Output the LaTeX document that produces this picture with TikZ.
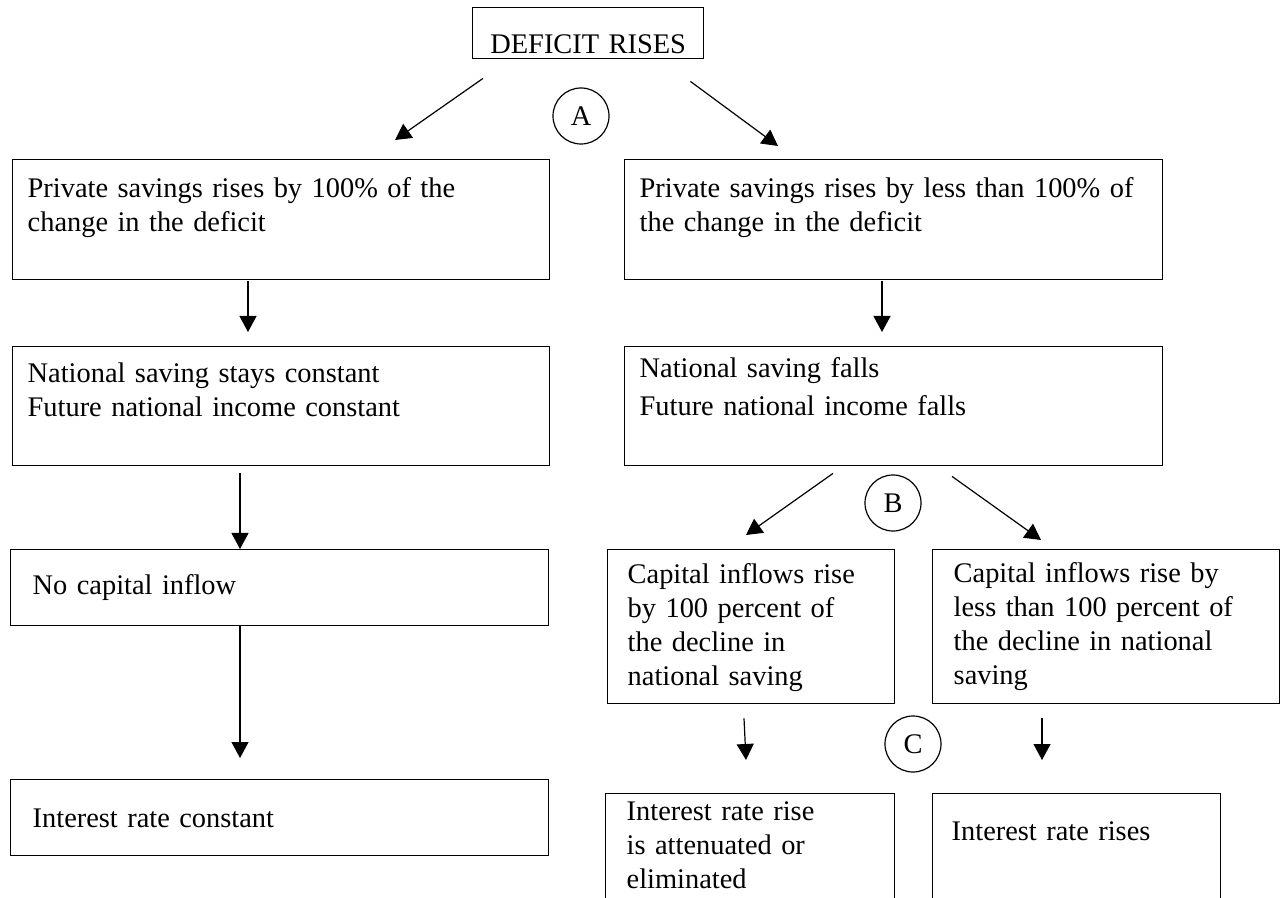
\documentclass[tikz,border=0pt]{standalone}
\usepackage{fontspec}
\setmainfont{Liberation Serif}
\usetikzlibrary{arrows.meta}
\begin{document}
\begin{tikzpicture}[x=0.5pt, y=-0.5pt]
\tikzset{boite/.style={draw, line width=0.7pt, anchor=north west, align=left, inner ysep=0pt, inner xsep=7.5pt, font=\fontsize{14.2pt}{17pt}\selectfont}}
\tikzset{rond/.style={draw, circle, line width=0.6pt, minimum size=28pt, inner sep=0pt, font=\fontsize{14.2pt}{17pt}\selectfont}}
\tikzset{fleche/.style={line width=0.6pt, -{Triangle[length=8pt, width=8.5pt]}}}
\useasboundingbox (0,0) rectangle (1280,898);
\clip (0,0) rectangle (1280,898);
\node[boite, align=center, inner xsep=0pt, text width=115.5pt, text height=23pt, text depth=2.5pt] (deficit) at (472,7) {DEFICIT RISES};
\node[boite, text width=253.5pt, text height=19pt, text depth=41pt] (prive100) at (12,159) {Private savings rises by 100\% of the\\change in the deficit};
\node[boite, text width=254pt, text height=19pt, text depth=41pt] (priveMoins) at (624,159) {Private savings rises by less than 100\% of\\the change in the deficit};
\node[boite, text width=253.5pt, text height=18pt, text depth=41.5pt] (epargneCst) at (12,346) {National saving stays constant\\Future national income constant};
\node[boite, text width=254pt, text height=15.5pt, text depth=44pt, font=\fontsize{14.2pt}{19pt}\selectfont] (epargneBaisse) at (624,346) {National saving falls\\Future national income falls};
\node[boite, inner xsep=11pt, text width=247pt, text height=22.5pt, text depth=15.5pt] (pasCapital) at (10,549) {No capital inflow};
\node[boite, inner xsep=11pt, text width=247pt, text height=24pt, text depth=14pt] (tauxCst) at (10,779) {Interest rate constant};
\node[boite, inner xsep=10pt, text width=123.5pt, text height=17pt, text depth=60pt] (capital100) at (607,549) {Capital inflows rise\\by 100 percent of\\the decline in\\national saving};
\node[boite, inner xsep=10.5pt, text width=152.5pt, text height=16.5pt, text depth=60.5pt] (capitalMoins) at (932,549) {Capital inflows rise by\\less than 100 percent of\\the decline in national\\saving};
\node[boite, inner xsep=10.5pt, text width=123.5pt, text height=13.5pt, text depth=55pt] (tauxAttenue) at (605,793) {Interest rate rise\\is attenuated or\\eliminated};
\node[boite, inner xsep=9.5pt, text width=125pt, text height=23.5pt, text depth=45pt] (tauxHausse) at (932,793) {Interest rate rises};
\node[rond] (A) at (581,116) {A};
\node[rond] (B) at (893,503) {B};
\node[rond] (C) at (913,744) {C};
\draw[fleche] ([shift={(11,19)}]deficit.south west) -- ([shift={(383,-19)}]prive100.north west);
\draw[fleche] ([shift={(-14,22)}]deficit.south east) -- ([shift={(154,-13)}]priveMoins.north west);
\draw[fleche] ([shift={(236,1)}]prive100.south west) -- ([shift={(236,-14)}]epargneCst.north west);
\draw[fleche] ([shift={(258,1)}]priveMoins.south west) -- ([shift={(258,-14)}]epargneBaisse.north west);
\draw[fleche] ([shift={(228,7)}]epargneCst.south west) -- ([shift={(230,0)}]pasCapital.north west);
\draw[fleche] ([shift={(230,0)}]pasCapital.south west) -- ([shift={(230,-21)}]tauxCst.north west);
\draw[fleche] ([shift={(209,7)}]epargneBaisse.south west) -- ([shift={(139,-14)}]capital100.north west);
\draw[fleche] ([shift={(328,10)}]epargneBaisse.south west) -- ([shift={(109,-9)}]capitalMoins.north west);
\draw[fleche] ([shift={(137,14)}]capital100.south west) -- ([shift={(141,-33)}]tauxAttenue.north west);
\draw[fleche] ([shift={(110,14)}]capitalMoins.south west) -- ([shift={(110,-33)}]tauxHausse.north west);
\end{tikzpicture}
\end{document}
